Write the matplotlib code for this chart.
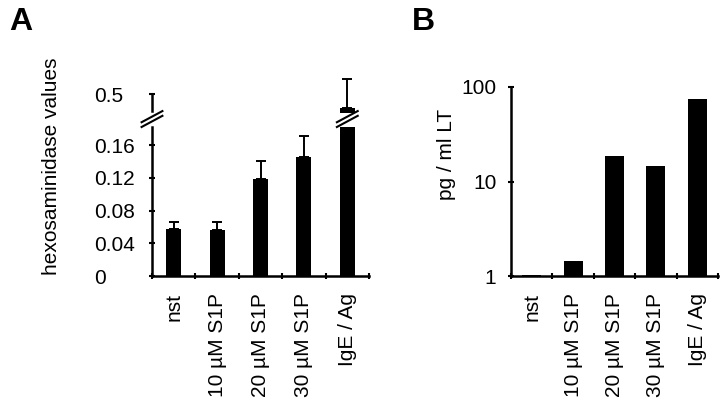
import matplotlib
matplotlib.use("Agg")
import matplotlib.pyplot as plt
import matplotlib.transforms as mtransforms
from matplotlib.ticker import NullLocator
import numpy as np

plt.rcParams['font.family'] = ['Liberation Sans', 'DejaVu Sans']

# data
groups = ['nst', '10 µM S1P', '20 µM S1P', '30 µM S1P', 'IgE / Ag']
hexo_mean = [0.057, 0.056, 0.119, 0.145, 0.356]
hexo_err = [0.009, 0.010, 0.022, 0.026, 0.30]
lt_values = [1.03, 1.45, 18.5, 14.7, 75]

hexo_ticks = [0, 0.04, 0.08, 0.12, 0.16]
hexo_ticklabels = ['0', '0.04', '0.08', '0.12', '0.16']
hexo_top_ticks = [0.5]
hexo_top_ticklabels = ['0.5']
lt_ticks = [1, 10, 100]
lt_ticklabels = ['1', '10', '100']

fs = 15
lw = 1.8
x = np.arange(len(groups))
bounds = np.arange(-0.5, len(groups), 1)

fig = plt.figure(figsize=(7.2, 4.04), dpi=100)


def style_x(ax):
    ax.set_xlim(-0.5, len(groups) - 0.5)
    ax.set_xticks(bounds)
    ax.set_xticklabels([])
    ax.set_xticks(x, groups, minor=True)
    ax.tick_params(axis='x', which='major', direction='inout', length=5, width=1.5)
    ax.tick_params(axis='x', which='minor', length=0, pad=12, labelrotation=90, labelsize=fs)


def break_marks(ax, xpos):
    tr = mtransforms.blended_transform_factory(ax.transData, ax.transAxes)
    for dy in (0.0, 0.032):
        ax.plot([xpos - 0.24, xpos + 0.24], [1.0 + dy, 1.075 + dy], transform=tr,
                color='black', lw=1.5, clip_on=False)


def left_labels(ax):
    # tick labels of panel A are left aligned in a column
    ax.tick_params(axis='y', pad=39)
    for lbl in ax.get_yticklabels():
        lbl.set_horizontalalignment('left')


########################################################################################################################
# A - lower part
########################################################################################################################
axA = fig.add_axes([152/720, 1 - 276/404, 217/720, 149/404])
axA.bar(x, hexo_mean, width=0.35, color='black')
axA.errorbar(x, hexo_mean, yerr=[np.zeros(len(x)), hexo_err], fmt='none',
             ecolor='black', elinewidth=1.4, capsize=3.5, capthick=1.4)
axA.set_ylim(0, 0.182)
axA.set_yticks(hexo_ticks, hexo_ticklabels)
axA.tick_params(axis='y', direction='inout', length=5, width=1.5, labelsize=fs)
left_labels(axA)
style_x(axA)
for s in ['top', 'right']:
    axA.spines[s].set_visible(False)
for s in ['left', 'bottom']:
    axA.spines[s].set_linewidth(lw)
break_marks(axA, -0.5)
break_marks(axA, x[-1])

# A - upper part
axAt = fig.add_axes([152/720, 1 - 113/404, 217/720, 36/404])
axAt.bar(x, hexo_mean, width=0.35, color='black')
axAt.errorbar(x, hexo_mean, yerr=[np.zeros(len(x)), hexo_err], fmt='none',
              ecolor='black', elinewidth=1.4, capsize=3.5, capthick=1.4)
axAt.set_ylim(0.3, 0.68)
axAt.set_xlim(-0.5, len(groups) - 0.5)
axAt.set_yticks(hexo_top_ticks, hexo_top_ticklabels)
axAt.tick_params(axis='y', direction='inout', length=5, width=1.5, labelsize=fs)
left_labels(axAt)
axAt.set_xticks([])
for s in ['top', 'right', 'bottom']:
    axAt.spines[s].set_visible(False)
axAt.spines['left'].set_linewidth(lw)
axAt.spines['left'].set_bounds(0.32, 0.5)
axAt.patch.set_visible(False)

fig.text(52/720, 1 - 166/404, 'hexosaminidase values', rotation=90, ha='center', va='center', fontsize=fs)
fig.text(9/720, 1 - 22/404, 'A', fontsize=23, fontweight='bold', va='center', ha='left')

########################################################################################################################
# B
########################################################################################################################
axB = fig.add_axes([511/720, 1 - 276/404, 207/720, 189/404])
axB.set_yscale('log')
axB.bar(x, lt_values, width=0.46, color='black')
axB.set_ylim(1, 100)
axB.set_yticks(lt_ticks, lt_ticklabels)
axB.yaxis.set_minor_locator(NullLocator())
axB.tick_params(axis='y', direction='inout', length=5, width=1.5, pad=8, labelsize=fs)
style_x(axB)
for s in ['top', 'right']:
    axB.spines[s].set_visible(False)
for s in ['left', 'bottom']:
    axB.spines[s].set_linewidth(lw)

fig.text(447/720, 1 - 154/404, 'pg / ml LT', rotation=90, ha='center', va='center', fontsize=fs)
fig.text(412/720, 1 - 22/404, 'B', fontsize=23, fontweight='bold', va='center', ha='left')

plt.savefig('out.png', dpi=100)
